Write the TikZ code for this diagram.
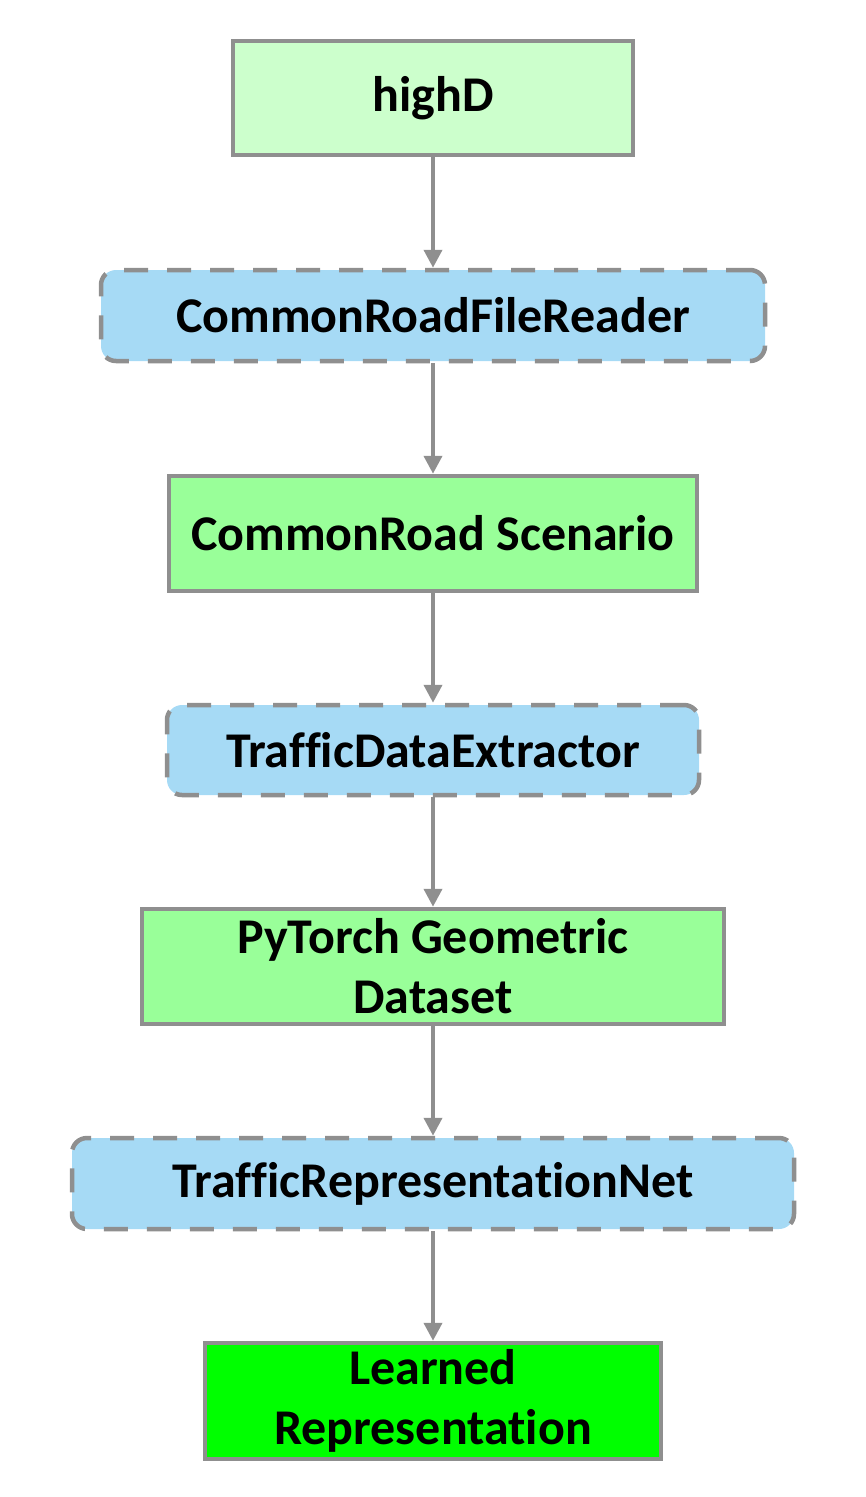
\documentclass[tikz,border=0pt]{standalone}
\usepackage{fontspec}
\setmainfont{Carlito}[Ligatures=NoCommon]
\usetikzlibrary{arrows.meta}
\definecolor{edgegray}{HTML}{8F8F8F}
\definecolor{procblue}{HTML}{A6DAF5}
\definecolor{palegreen}{HTML}{CCFFCC}
\definecolor{midgreen}{HTML}{99FF99}
\definecolor{brightgreen}{HTML}{00FF00}
\tikzset{
  base/.style={draw=edgegray, line width=4.5pt, align=center, inner sep=0pt,
    font=\fontsize{50}{60}\selectfont\bfseries, text=black},
  databox/.style={base},
  procbox/.style={base, fill=procblue, rounded corners=15pt,
    dash pattern=on 24pt off 19pt},
  flow/.style={draw=edgegray, line width=4pt, -{Triangle[width=18pt,length=18pt]}},
}
\begin{document}
\begin{tikzpicture}[x=1pt,y=-1pt]
\useasboundingbox (0,0) rectangle (866,1497);
\node[databox, fill=palegreen, minimum width=400pt, minimum height=114pt] (hd) at (433,98) {highD};
\node[procbox, minimum width=664pt, minimum height=91pt] (rd) at (433,315.5) {CommonRoadFileReader};
\node[databox, fill=midgreen, minimum width=528pt, minimum height=115pt] (sc) at (433,533.5) {CommonRoad Scenario};
\node[procbox, minimum width=532pt, minimum height=90pt] (ex) at (433,750) {TrafficDataExtractor};
\node[databox, fill=midgreen, minimum width=582pt, minimum height=115pt] (ds) at (433,966.5) {PyTorch Geometric\\Dataset};
\node[procbox, minimum width=722pt, minimum height=91pt] (net) at (433,1183.5) {TrafficRepresentationNet};
\node[databox, fill=brightgreen, minimum width=456pt, minimum height=116pt] (lr) at (433,1401) {Learned\\Representation};
\draw[flow] (hd) -- (rd);
\draw[flow] (rd) -- (sc);
\draw[flow] (sc) -- (ex);
\draw[flow] (ex) -- (ds);
\draw[flow] (ds) -- (net);
\draw[flow] (net) -- (lr);
\end{tikzpicture}
\end{document}
